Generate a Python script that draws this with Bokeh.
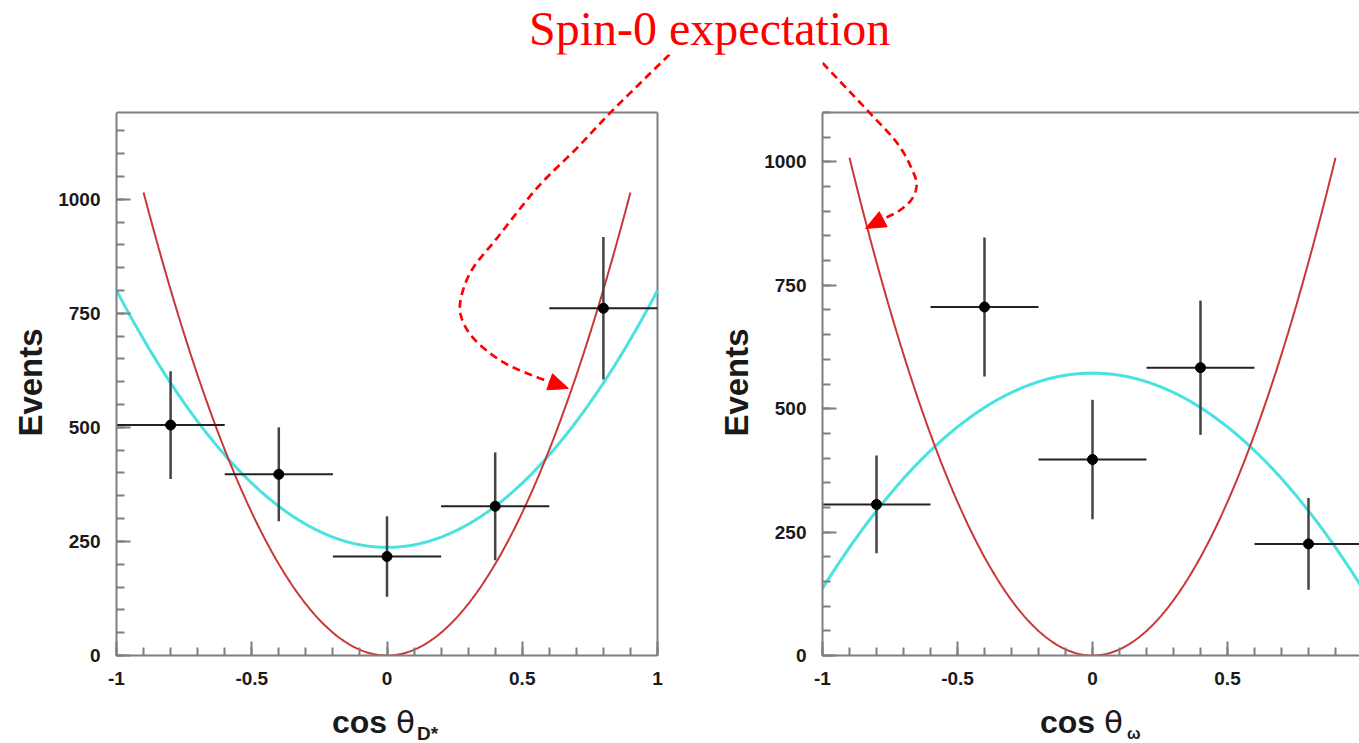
import numpy as np
from bokeh.plotting import figure
from bokeh.models import Div, FixedTicker, CustomJSTickFormatter, LinearAxis, Range1d
from bokeh.layouts import column, row
from bokeh.embed import file_html
from bokeh.resources import INLINE

# ---------------- data ----------------
bin_centers = [-0.8, -0.4, 0.0, 0.4, 0.8]
bin_half_width = 0.2
dstar_events = [505, 397, 217, 327, 761]
dstar_errors = [118, 103, 88, 118, 156]
omega_events = [306, 706, 397, 583, 226]
omega_errors = [99, 141, 121, 136, 93]

# fitted curves: events = const + quad * cos^2(theta)
fit_const = [237, 572]          # D*, omega
fit_quad = [563, -436]
# spin-0 expectation: events = spin0_quad * cos^2(theta), drawn for |cos| <= 0.9
spin0_quad = [1253, 1245]
spin0_xmax = 0.9

x_ticks = [-1, -0.5, 0, 0.5, 1]
y_ticks = [0, 250, 500, 750, 1000]
y_max = [1190, 1100]            # top of each histogram frame
title_text = "Spin-0 expectation"
y_title = "Events"
x_title_main = "cos"
x_title_symbol = "θ"
x_title_subscripts = ["D*", "ω"]

# ---------------- layout constants (picture pixels) ----------------
FRAME_COLOR = "#7f7f7f"
TEXT_COLOR = "#1a1a1a"
RED = "#ff0000"
TITLE_H = 54          # height taken by the title row
FIG_TOP = TITLE_H
FIG_H = 649
FRAME_BOTTOM_PX = 655
HIST_TOP_PX = 112
BOTTOM_BORDER = FIG_TOP + FIG_H - FRAME_BOTTOM_PX
XT_H = 743 - (FIG_TOP + FIG_H)
# the axis title is centred on the whole drawing area; pad it so that it sits
# centred on the histogram frame instead
Y_TITLE_PAD = "\u00a0" * 6

panels = [
    # canvas x offset, canvas width, left border, px per unit in x
    dict(ox=0, width=700, left=116, xscale=541 / 2.0),
    dict(ox=700, width=659, left=122, xscale=270.0),
]


def geometry(i):
    pn = panels[i]
    fl = pn["ox"] + pn["left"]
    fw = pn["width"] - pn["left"]
    fh = FRAME_BOTTOM_PX - FIG_TOP
    yscale = (FRAME_BOTTOM_PX - HIST_TOP_PX) / y_max[i]
    x_end = -1 + fw / pn["xscale"]
    y_end = fh / yscale

    def to_data(px, py):
        return (-1 + (px - fl) / pn["xscale"], (FRAME_BOTTOM_PX - py) / yscale)
    return x_end, y_end, to_data


def catmull(points, n=24):
    pts = np.array(points, float)
    P = np.vstack([pts[0], pts, pts[-1]])
    out = []
    for i in range(1, len(P) - 2):
        p0, p1, p2, p3 = P[i - 1], P[i], P[i + 1], P[i + 2]
        for t in np.linspace(0, 1, n, endpoint=False):
            t2 = t * t
            t3 = t2 * t
            out.append(0.5 * ((2 * p1) + (-p0 + p2) * t + (2 * p0 - 5 * p1 + 4 * p2 - p3) * t2
                              + (-p0 + 3 * p1 - 3 * p2 + p3) * t3))
    out.append(pts[-1])
    return np.array(out)


def dashed_arrow(p, points, to_data, head_len=20.0, head_w=17.0):
    path = catmull(points)
    d = np.hypot(*np.diff(path, axis=0).T)
    s = np.concatenate([[0], np.cumsum(d)])
    body_end = s[-1] - head_len
    keep = s < body_end
    bx = np.append(path[keep, 0], np.interp(body_end, s, path[:, 0]))
    by = np.append(path[keep, 1], np.interp(body_end, s, path[:, 1]))
    dd = [to_data(a, b) for a, b in zip(bx, by)]
    p.line([q[0] for q in dd], [q[1] for q in dd], line_color=RED, line_width=2.7,
           line_dash="8 5")
    base = np.array([bx[-1], by[-1]])
    tip = path[-1]
    dv = tip - base
    dv /= np.hypot(*dv)
    pv = np.array([-dv[1], dv[0]]) * head_w / 2
    tri = [to_data(*q) for q in (tip, base + pv, base - pv)]
    p.patch([q[0] for q in tri], [q[1] for q in tri], fill_color=RED, line_color=RED,
            line_width=1)


def axis_style(ax):
    ax.axis_line_color = FRAME_COLOR
    ax.axis_line_width = 2
    ax.major_tick_line_color = FRAME_COLOR
    ax.major_tick_line_width = 2
    ax.minor_tick_line_color = FRAME_COLOR
    ax.minor_tick_line_width = 2
    ax.major_tick_in = 14
    ax.major_tick_out = 0
    ax.minor_tick_in = 8
    ax.minor_tick_out = 0
    ax.major_label_text_font = "Liberation Sans"
    ax.major_label_text_font_style = "bold"
    ax.major_label_text_font_size = "19px"
    ax.major_label_text_color = TEXT_COLOR


def make_panel(i, events, errors):
    pn = panels[i]
    x_end, y_end, to_data = geometry(i)
    p = figure(width=pn["width"], height=FIG_H, title=None,
               x_range=Range1d(-1, x_end), y_range=Range1d(0, y_end),
               x_axis_type=None, y_axis_type=None,
               output_backend="svg", toolbar_location=None,
               min_border_left=pn["left"], min_border_right=0,
               min_border_top=0, min_border_bottom=BOTTOM_BORDER)
    p.background_fill_color = "white"
    p.border_fill_color = "white"
    p.outline_line_color = None

    xb = LinearAxis(ticker=FixedTicker(ticks=x_ticks,
                                       minor_ticks=list(np.round(np.arange(-1, 1.01, 0.1), 2))),
                    formatter=CustomJSTickFormatter(code="return String(tick)"),
                    bounds=(-1, min(1, x_end)))
    axis_style(xb)
    xb.major_label_standoff = 16
    p.add_layout(xb, "below")

    yl = LinearAxis(ticker=FixedTicker(ticks=y_ticks, minor_ticks=list(range(0, y_max[i] + 1, 50))),
                    bounds=(0, y_max[i]), axis_label=y_title + Y_TITLE_PAD)
    axis_style(yl)
    yl.major_label_standoff = 16
    yl.axis_label_standoff = 6
    yl.axis_label_text_font = "Liberation Sans"
    yl.axis_label_text_font_style = "bold"
    yl.axis_label_text_font_size = "33px"
    yl.axis_label_text_color = TEXT_COLOR
    p.add_layout(yl, "left")

    # remaining sides of the histogram frame
    p.line([-1, 1], [y_max[i], y_max[i]], line_color=FRAME_COLOR, line_width=2)
    if x_end > 1:
        p.line([1, 1], [0, y_max[i]], line_color=FRAME_COLOR, line_width=2)

    # fitted curve (cyan)
    xf = np.linspace(-1, 1, 401)
    p.line(xf, fit_const[i] + fit_quad[i] * xf ** 2, line_color="#48e2e2", line_width=3)
    # spin-0 expectation (red)
    xs0 = np.linspace(-spin0_xmax, spin0_xmax, 361)
    p.line(xs0, spin0_quad[i] * xs0 ** 2, line_color="#c83838", line_width=2)

    # data with error bars
    xc = np.array(bin_centers)
    ev = np.array(events)
    er = np.array(errors)
    p.segment(x0=xc - bin_half_width, y0=ev, x1=xc + bin_half_width, y1=ev,
              line_color="#222222", line_width=2)
    p.segment(x0=xc, y0=ev - er, x1=xc, y1=ev + er, line_color="#444444", line_width=2.5)
    p.scatter(xc, ev, size=10, color="black")
    return p, to_data


p1, m1 = make_panel(0, dstar_events, dstar_errors)
p2, m2 = make_panel(1, omega_events, omega_errors)

# dashed annotation arrows (picture pixel paths)
left_arrow = [(669, 54), (612, 110), (577, 147), (537, 187), (497, 237), (471, 270),
              (460, 300), (462, 320), (475, 340), (500, 360), (527, 373), (568, 388)]
right_arrow = [(813, 53), (867, 110), (897, 143), (912, 170), (916, 185), (911, 199),
               (899, 210), (886, 217), (865, 228)]
dashed_arrow(p1, left_arrow, m1)
dashed_arrow(p2, right_arrow, m2)

title = Div(text=('<span style="color:#ff0000; font-family:\'Liberation Serif\', serif; '
                  'font-size:48px; line-height:50px; white-space:nowrap;">' + title_text + '</span>'),
            width=420, height=50, margin=(4, 0, 0, 529))


def span(left, top, size, text, bold=True, font="Liberation Sans"):
    w = "bold" if bold else "normal"
    return (f'<span style="position:absolute; left:{left}px; top:{top}px; font-family:\'{font}\'; '
            f'font-weight:{w}; font-size:{size}px; line-height:{size}px; color:{TEXT_COLOR}; '
            f'white-space:nowrap;">{text}</span>')


xt_base = FIG_TOP + FIG_H
xtitle_html = ('<div style="position:relative; width:1359px; height:%dpx;">' % XT_H
               + span(332, 733 - xt_base - 27, 32, x_title_main)
               + span(396, 733 - xt_base - 26, 31, x_title_symbol, bold=False, font="DejaVu Sans")
               + span(417, 740 - xt_base - 16, 19, x_title_subscripts[0])
               + span(1040, 733 - xt_base - 27, 32, x_title_main)
               + span(1104, 733 - xt_base - 26, 31, x_title_symbol, bold=False, font="DejaVu Sans")
               + span(1127, 740 - xt_base - 14, 16, x_title_subscripts[1])
               + '</div>')
xtitles = Div(text=xtitle_html, width=1359, height=XT_H, margin=0)

layout = column(title, row(p1, p2, spacing=0), xtitles, spacing=0)
open("out.html", "w").write(file_html(layout, INLINE))
